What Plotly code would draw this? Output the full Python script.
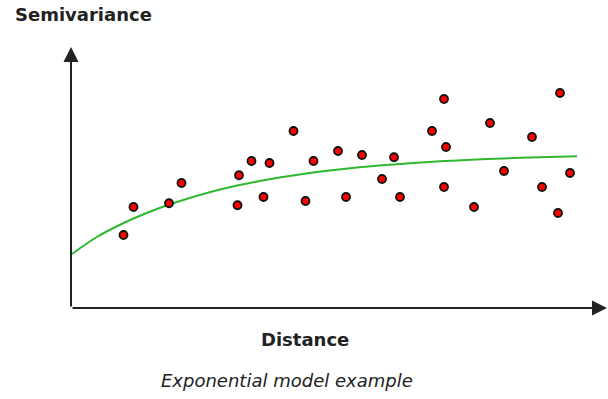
import plotly.graph_objects as go

point_distance = [10.5, 12.5, 19.6, 22.1, 33.3, 33.6, 36.1, 39.7, 38.5, 44.5,
                  46.9, 48.5, 53.4, 55.0, 58.2, 62.2, 64.6, 65.8, 72.2, 74.6,
                  75.0, 74.6, 80.6, 83.8, 86.6, 92.2, 94.2, 97.4, 97.8, 99.8]
point_semivariance = [29.2, 40.4, 41.9, 50.0, 41.1, 53.1, 58.8, 58.0, 44.4, 70.8,
                      42.8, 58.8, 62.8, 44.4, 61.2, 51.6, 60.3, 44.4, 70.8, 83.6,
                      64.4, 48.4, 40.4, 74.0, 54.8, 68.4, 48.4, 38.0, 86.0, 54.0]

# Exponential model curve
curve_distance = [0.2, 5, 10, 15, 20, 30, 40, 50, 60, 70, 80, 90, 101.2]
curve_semivariance = [21.6, 28.2, 33.5, 37.9, 41.6, 47.5, 51.6, 54.6, 56.7, 58.2, 59.3, 60.1, 60.7]

x_max = 107.2
y_max = 104.4

title_y = "Semivariance"
title_x = "Distance"
caption = "Exponential model example"

fig = go.Figure()
fig.add_trace(go.Scatter(
    x=curve_distance, y=curve_semivariance, mode="lines",
    line=dict(color="#2eb82e", width=2, shape="spline"),
    hoverinfo="skip", showlegend=False))
fig.add_trace(go.Scatter(
    x=point_distance, y=point_semivariance, mode="markers",
    marker=dict(color="#ff0000", size=8, line=dict(color="#111111", width=1.8)),
    showlegend=False))

font_family = "DejaVu Sans"
annotations = [
    # axes with arrowheads
    dict(x=x_max, y=0, ax=0, ay=0, xref="x", yref="y", axref="x", ayref="y",
         text="", showarrow=True, arrowhead=2, arrowsize=1.5, arrowwidth=2,
         arrowcolor="#222222", standoff=0),
    dict(x=0, y=y_max, ax=0, ay=0, xref="x", yref="y", axref="x", ayref="y",
         text="", showarrow=True, arrowhead=2, arrowsize=1.5, arrowwidth=2,
         arrowcolor="#222222", standoff=0),
    dict(x=-0.1088, y=1.1264, xref="paper", yref="paper", xanchor="left", yanchor="middle",
         text=title_y, showarrow=False,
         font=dict(family=font_family, size=18, color="#222222", weight="bold")),
    dict(x=0.4366, y=-0.1226, xref="paper", yref="paper", xanchor="center", yanchor="middle",
         text=title_x, showarrow=False,
         font=dict(family=font_family, size=18, color="#222222", weight="bold")),
    dict(x=0.403, y=-0.2759, xref="paper", yref="paper", xanchor="center", yanchor="middle",
         text="<i>" + caption + "</i>", showarrow=False,
         font=dict(family=font_family, size=18, color="#222222")),
]

fig.update_layout(
    width=608, height=399,
    margin=dict(l=71, r=1, t=47, b=91),
    paper_bgcolor="white", plot_bgcolor="white",
    xaxis=dict(range=[0, x_max], showgrid=False, zeroline=False, showline=False,
               showticklabels=False, ticks="", fixedrange=True),
    yaxis=dict(range=[0, y_max], showgrid=False, zeroline=False, showline=False,
               showticklabels=False, ticks="", fixedrange=True),
    annotations=annotations,
    showlegend=False,
)

# remove the default 8px page margin so the figure fills the window exactly
fig.write_html("out.html", config={"displayModeBar": False},
               post_script="document.body.style.margin='0';")
